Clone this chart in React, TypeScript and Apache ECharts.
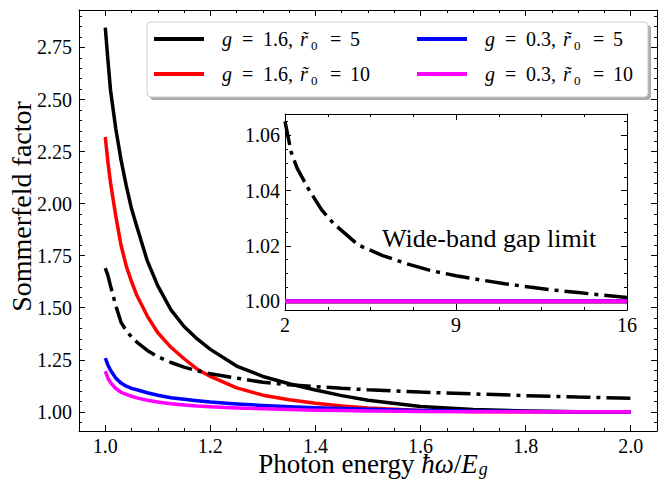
import React, { useEffect, useRef } from 'react';
import * as echarts from 'echarts';

// ---------- data ----------
const photonEnergy = [1.0, 1.005, 1.01, 1.02, 1.03, 1.04, 1.05, 1.06, 1.08, 1.1, 1.125, 1.15, 1.175, 1.2, 1.25, 1.3, 1.35, 1.4, 1.45, 1.5, 1.6, 1.7, 1.8, 1.9, 2.0];
const g16r5 = [2.845, 2.69, 2.545, 2.36, 2.21, 2.085, 1.975, 1.89, 1.725, 1.605, 1.49, 1.41, 1.35, 1.3, 1.22, 1.17, 1.135, 1.105, 1.078, 1.056, 1.026, 1.011, 1.004, 1.001, 1.0];
const g16r10 = [2.32, 2.2, 2.1, 1.94, 1.8, 1.7, 1.625, 1.56, 1.46, 1.38, 1.31, 1.255, 1.205, 1.17, 1.115, 1.08, 1.058, 1.041, 1.028, 1.018, 1.006, 1.002, 1.0, 1.0, 1.0];
const g03r5 = [1.258, 1.225, 1.2, 1.162, 1.138, 1.123, 1.113, 1.106, 1.092, 1.08, 1.068, 1.06, 1.053, 1.047, 1.038, 1.031, 1.025, 1.02, 1.016, 1.012, 1.007, 1.004, 1.002, 1.001, 1.0];
const g03r10 = [1.195, 1.162, 1.14, 1.112, 1.094, 1.084, 1.075, 1.067, 1.056, 1.047, 1.039, 1.033, 1.028, 1.025, 1.019, 1.015, 1.011, 1.008, 1.006, 1.004, 1.002, 1.001, 1.0, 1.0, 1.0];
const wideGap = [1.69, 1.655, 1.605, 1.51, 1.43, 1.39, 1.36, 1.335, 1.295, 1.265, 1.237, 1.215, 1.197, 1.183, 1.162, 1.142, 1.13, 1.121, 1.113, 1.106, 1.095, 1.086, 1.078, 1.071, 1.065];

const insetEnergy = [2, 2.25, 2.5, 3, 3.5, 4, 5, 6, 7, 8, 9, 10, 11, 12, 13, 14, 15, 16];
const insetWideGap = [1.065, 1.054, 1.048, 1.04, 1.033, 1.028, 1.0203, 1.0165, 1.0135, 1.011, 1.0092, 1.0077, 1.0063, 1.0051, 1.004, 1.0031, 1.0022, 1.0013];
const insetFlatEnergy = [2, 16];
const insetFlatValues = [1.0, 1.0];

// ---------- ticks ----------
const xMajor = [1.0, 1.2, 1.4, 1.6, 1.8, 2.0];
const xMinor = [1.05, 1.1, 1.15, 1.25, 1.3, 1.35, 1.45, 1.5, 1.55, 1.65, 1.7, 1.75, 1.85, 1.9, 1.95];
const yMajor = [1.0, 1.25, 1.5, 1.75, 2.0, 2.25, 2.5, 2.75];
const yMinor = [0.95, 1.05, 1.1, 1.15, 1.2, 1.3, 1.35, 1.4, 1.45, 1.55, 1.6, 1.65, 1.7, 1.8, 1.85, 1.9, 1.95, 2.05, 2.1, 2.15, 2.2, 2.3, 2.35, 2.4, 2.45, 2.55, 2.6, 2.65, 2.7, 2.8, 2.85, 2.9];
const insetXMajor = [2, 9, 16];
const insetXMinor = [3.75, 5.5, 7.25, 10.75, 12.5, 14.25];
const insetYMajor = [1.0, 1.02, 1.04, 1.06];
const insetYMinor = [1.005, 1.01, 1.015, 1.025, 1.03, 1.035, 1.045, 1.05, 1.055, 1.065];

const names = ['g = 1.6, r̃₀ = 5', 'g = 1.6, r̃₀ = 10', 'g = 0.3, r̃₀ = 5', 'g = 0.3, r̃₀ = 10'];
const gValues = ['1.6', '1.6', '0.3', '0.3'];
const rValues = ['5', '10', '5', '10'];
const colors = ['#000000', '#ff0000', '#0000ff', '#ff00ff'];

const FONT = 'Liberation Serif';

type LabelOpt = { values: number[]; fmt: (v: number) => string; margin: number; lineHeight?: number };

function axis(gridIndex: number, position: string, min: number, max: number, ticks: number[], length: number, showLine: boolean, label?: LabelOpt, extra: any = {}) {
  const labelStyle: any = label
    ? { show: true, customValues: label.values, formatter: label.fmt, margin: label.margin, color: '#000', fontFamily: FONT, fontSize: 20 }
    : { show: false };
  if (label && label.lineHeight) labelStyle.lineHeight = label.lineHeight;
  return {
    type: 'value',
    gridIndex,
    position,
    min,
    max,
    splitLine: { show: false },
    axisLine: { show: showLine, onZero: false, lineStyle: { color: '#000', width: 1 } },
    axisTick: { show: true, inside: true, length, customValues: ticks, lineStyle: { color: '#000', width: 1 } },
    minorTick: { show: false },
    axisLabel: labelStyle,
    axisPointer: { show: false },
    silent: true,
    ...extra,
  };
}

function pairs(xs: number[], ys: number[]) {
  return xs.map((x, i) => [x, ys[i]]);
}

const richLegend = {
  p: { width: 13, fontSize: 20, fontFamily: FONT, lineHeight: 26 },
  gi: { width: 20, fontStyle: 'italic', fontSize: 20, fontFamily: FONT, lineHeight: 26, color: '#000' },
  eq: { width: 21, fontSize: 20, fontFamily: FONT, lineHeight: 26, color: '#000' },
  num: { width: 37, fontSize: 20, fontFamily: FONT, lineHeight: 26, color: '#000' },
  ri: { width: 11, fontStyle: 'italic', fontSize: 20, fontFamily: FONT, lineHeight: 26, color: '#000' },
  s: { width: 19, fontSize: 13, fontFamily: FONT, lineHeight: 13, padding: [12, 0, 0, 0], color: '#000' },
  eq2: { width: 20, fontSize: 20, fontFamily: FONT, lineHeight: 26, color: '#000' },
  n: { fontSize: 20, fontFamily: FONT, lineHeight: 26, color: '#000' },
};

function legendText(name: string) {
  const i = names.indexOf(name);
  return `{p| }{gi|g}{eq|=}{num|${gValues[i]},}{ri|r̃}{s|0}{eq2|=}{n|${rValues[i]}}`;
}

function legend(left: number, data: string[]) {
  return {
    orient: 'vertical',
    left,
    top: 26,
    padding: 0,
    itemGap: 9,
    itemWidth: 50,
    itemHeight: 4,
    icon: 'rect',
    selectedMode: false,
    z: 20,
    data,
    formatter: legendText,
    textStyle: { color: '#000', fontFamily: FONT, fontSize: 20, lineHeight: 26, rich: richLegend },
  };
}

export default function App() {
  const ref = useRef<HTMLDivElement>(null);
  useEffect(() => {
    if (!ref.current) return;
    const chart = echarts.init(ref.current, null, { renderer: 'svg' });
    const fmt2 = (v: number) => v.toFixed(2);
    const fmt1 = (v: number) => v.toFixed(1);
    const fmt0 = (v: number) => String(Math.round(v));
    const mainX = [0.95, 2.05];
    const mainY = [0.908, 2.93];
    const inX = [2, 16];
    const inY = [0.9968, 1.0677];

    const mainSeries = [g16r5, g16r10, g03r5, g03r10].map((vals, i) => ({
      name: names[i],
      type: 'line',
      xAxisIndex: 0,
      yAxisIndex: 0,
      data: pairs(photonEnergy, vals),
      showSymbol: false,
      symbol: 'none',
      smooth: false,
      color: colors[i],
      lineStyle: { color: colors[i], width: 3.5, join: 'round' },
      z: 2 + i,
    }));
    const insetFlat = [0, 1, 2, 3].map((i) => ({
      name: names[i] + ' (inset)',
      type: 'line',
      xAxisIndex: 4,
      yAxisIndex: 4,
      data: pairs(insetFlatEnergy, insetFlatValues),
      showSymbol: false,
      symbol: 'none',
      color: colors[i],
      lineStyle: { color: colors[i], width: 4 },
      z: 12 + i,
    }));

    const option: any = {
      animation: false,
      backgroundColor: '#ffffff',
      grid: [
        { left: 79, top: 10, width: 578, height: 421, containLabel: false, outerBoundsMode: 'none' },
        { left: 285, top: 114, width: 342, height: 196, containLabel: false, outerBoundsMode: 'none', show: true, backgroundColor: '#ffffff', borderWidth: 0 },
      ],
      xAxis: [
        axis(0, 'bottom', mainX[0], mainX[1], xMajor, 6, true, { values: xMajor, fmt: fmt1, margin: 7, lineHeight: 16 }, {
          name: '{n|Photon energy }{i|ħω}{n|/}{i|E}{s|g}',
          nameLocation: 'middle',
          nameGap: 23,
          nameMoveOverlap: false,
          nameTextStyle: {
            color: '#000', fontFamily: FONT, fontSize: 27, lineHeight: 20, padding: [0, 0, 0, 10],
            rich: {
              n: { fontSize: 27, fontFamily: FONT, lineHeight: 20, color: '#000' },
              i: { fontSize: 27, fontFamily: FONT, fontStyle: 'italic', lineHeight: 20, color: '#000' },
              s: { fontSize: 18, fontFamily: FONT, fontStyle: 'italic', lineHeight: 12, padding: [10, 0, 0, 1], color: '#000' },
            },
          },
        }),
        axis(0, 'bottom', mainX[0], mainX[1], xMinor, 3, false),
        axis(0, 'top', mainX[0], mainX[1], xMajor, 6, true),
        axis(0, 'top', mainX[0], mainX[1], xMinor, 3, false),
        axis(1, 'bottom', inX[0], inX[1], insetXMajor, 6, true, { values: insetXMajor, fmt: fmt0, margin: 5 }, { z: 14 }),
        axis(1, 'bottom', inX[0], inX[1], insetXMinor, 3, false, undefined, { z: 14 }),
        axis(1, 'top', inX[0], inX[1], insetXMajor, 6, true, undefined, { z: 14 }),
        axis(1, 'top', inX[0], inX[1], insetXMinor, 3, false, undefined, { z: 14 }),
      ],
      yAxis: [
        axis(0, 'left', mainY[0], mainY[1], yMajor, 6, true, { values: yMajor, fmt: fmt2, margin: 7 }, {
          name: 'Sommerfeld factor',
          nameLocation: 'middle',
          nameGap: 42,
          nameMoveOverlap: false,
          nameTextStyle: { color: '#000', fontFamily: FONT, fontSize: 28, lineHeight: 32, padding: [0, 0, 0, 28] },
        }),
        axis(0, 'left', mainY[0], mainY[1], yMinor, 3, false),
        axis(0, 'right', mainY[0], mainY[1], yMajor, 6, true),
        axis(0, 'right', mainY[0], mainY[1], yMinor, 3, false),
        axis(1, 'left', inY[0], inY[1], insetYMajor, 6, true, { values: insetYMajor, fmt: fmt2, margin: 5 }, { z: 14 }),
        axis(1, 'left', inY[0], inY[1], insetYMinor, 3, false, undefined, { z: 14 }),
        axis(1, 'right', inY[0], inY[1], insetYMajor, 6, true, undefined, { z: 14 }),
        axis(1, 'right', inY[0], inY[1], insetYMinor, 3, false, undefined, { z: 14 }),
      ],
      legend: [legend(154, [names[0], names[1]]), legend(417, [names[2], names[3]])],
      graphic: [
        { type: 'rect', z: 10, silent: true, shape: { x: 150, y: 25, width: 501, height: 75, r: 4 }, style: { fill: '#ababab' } },
        { type: 'rect', z: 11, silent: true, shape: { x: 147, y: 22, width: 501, height: 75, r: 4 }, style: { fill: '#ffffff', stroke: '#cccccc', lineWidth: 1 } },
        { type: 'text', z: 20, silent: true, x: 382, y: 238, style: { text: 'Wide-band gap limit', fill: '#000', font: `26px "${FONT}"`, verticalAlign: 'middle', align: 'left' } },
      ],
      series: [
        ...mainSeries,
        {
          name: 'Wide-band gap limit',
          type: 'line',
          xAxisIndex: 0,
          yAxisIndex: 0,
          data: pairs(photonEnergy, wideGap),
          showSymbol: false,
          symbol: 'none',
          smooth: false,
          color: '#000',
          lineStyle: { color: '#000', width: 3.5, type: [24, 6, 4, 6], cap: 'butt' },
          z: 7,
        },
        ...insetFlat,
        {
          name: 'Wide-band gap limit (inset)',
          type: 'line',
          xAxisIndex: 4,
          yAxisIndex: 4,
          data: pairs(insetEnergy, insetWideGap),
          showSymbol: false,
          symbol: 'none',
          smooth: false,
          color: '#000',
          lineStyle: { color: '#000', width: 3.5, type: [24, 6, 4, 6], cap: 'butt' },
          z: 11,
        },
      ],
    };
    chart.setOption(option);
    return () => chart.dispose();
  }, []);
  return <div ref={ref} style={{ position: 'absolute', left: 0, top: 0, width: 667, height: 485, background: '#fff' }} />;
}
